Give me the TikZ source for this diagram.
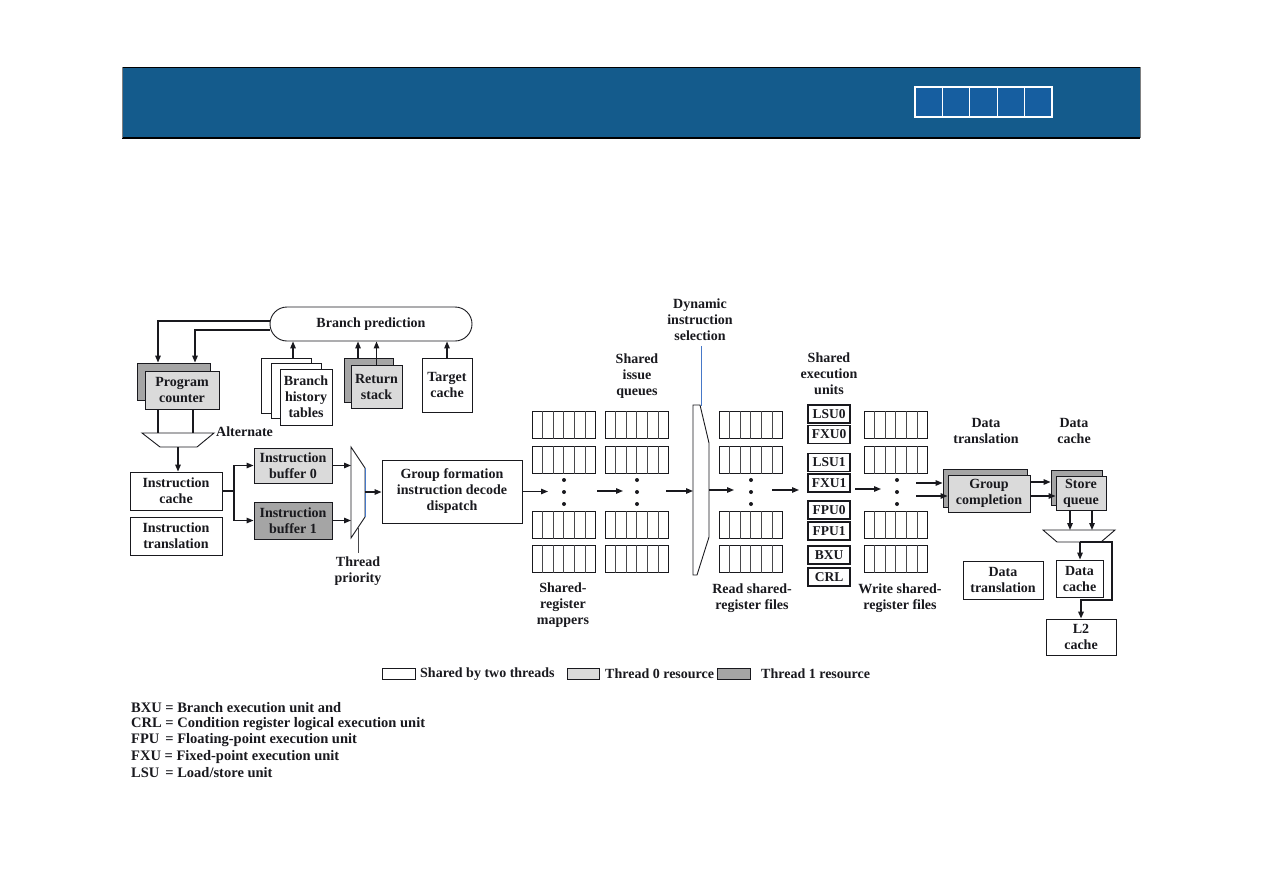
\documentclass[tikz,border=0pt]{standalone}
\usepackage{fontspec}
\setmainfont{Liberation Serif}
\usetikzlibrary{arrows.meta}
\definecolor{banner}{RGB}{20,91,140}
\definecolor{cellblue}{RGB}{22,94,160}
\definecolor{tzero}{RGB}{218,218,218}
\definecolor{tone}{RGB}{165,165,165}
\definecolor{ink}{RGB}{25,25,30}
\definecolor{selline}{RGB}{70,120,200}
\newcommand{\regblk}[3]{%
  \node[reg] (#1) at ({#2+31.75},{#3+13.75}) {};
  \foreach \k in {1,...,5}{\draw[cell] ({#2+\k*63.5/6},#3) -- ++(0,27.5);}
}
\tikzset{
 lbl/.style={font=\bfseries\fontsize{14}{16}\selectfont, text=ink, align=center, inner sep=0pt},
 box/.style={lbl, draw=ink, line width=0.9pt, fill=white},
 tzbox/.style={box, fill=tzero},
 tobox/.style={box, fill=tone},
 reg/.style={draw=ink, line width=0.8pt, minimum width=63.5pt, minimum height=27.5pt, inner sep=0pt},
 cell/.style={draw=ink!80, line width=0.7pt},
 eu/.style={box, line width=1.3pt, minimum width=42pt, minimum height=18pt, font=\bfseries\fontsize{13.5}{15}\selectfont},
 arr/.style={draw=ink, line width=1.3pt, -{Triangle[length=7pt,width=5.5pt]}},
 ln/.style={draw=ink, line width=1.1pt},
 mux/.style={draw=ink, line width=0.9pt, fill=white},
 dot/.style={fill=ink, circle, inner sep=0pt, minimum size=4pt},
 abbr/.style={lbl, anchor=west, font=\bfseries\fontsize{14.5}{16}\selectfont},
}
\begin{document}
\begin{tikzpicture}[x=1pt,y=-1pt]
\useasboundingbox[fill=white] (0,0) rectangle (1263,894);
% banner
\fill[banner] (122,67) rectangle (1140,138);
\draw[black, line width=1pt] (122,67) -- (1140,67);
\draw[black, line width=2.5pt] (122,138) -- (1140,138);
\draw[gray, line width=0.5pt] (122,67) -- (122,138) (1140,67) -- (1140,138);
\fill[cellblue] (915,87) rectangle (1052,117);
\draw[white, line width=1.5pt] (915,87) rectangle (1052,117);
\foreach \i in {1,...,4}{\draw[white, line width=1.2pt] ({915+\i*27.4},87) -- ({915+\i*27.4},117);}

% branch prediction
\node[box, rounded corners=17pt, minimum width=202pt, minimum height=34pt] (bp) at (371,324) {Branch prediction};
\node[tobox, minimum width=73pt, minimum height=37pt] (pcb) at (173.5,381.5) {};
\node[tzbox, minimum width=74pt, minimum height=38pt] (pc) at (182,390) {Program\\counter};
\node[box, minimum width=50pt, minimum height=55pt] (bht3) at (286,385.5) {};
\node[box, minimum width=50pt, minimum height=55pt] (bht2) at (296,390.5) {};
\node[box, minimum width=52pt, minimum height=56pt] (bht) at (306,397) {Branch\\history\\tables};
\node[tobox, minimum width=49pt, minimum height=44pt] (rsb) at (368.5,380) {};
\node[tzbox, minimum width=51pt, minimum height=43pt] (rs) at (376.5,386.5) {Return\\stack};
\node[box, minimum width=50pt, minimum height=54pt] (tc) at (447,385) {Target\\cache};

\draw[arr] ([yshift=3pt]bp.west) -| ([xshift=-15.5pt]pcb.north);
\draw[arr] ([yshift=-6pt]bp.west) -| ([xshift=21.5pt]pcb.north);
\draw[arr] ([xshift=7pt]bht3.north) -- ([xshift=7pt]bht3.north |- bp.south);
\draw[arr] ([xshift=-10.5pt]rsb.north) -- ([xshift=-10.5pt]rsb.north |- bp.south);
\draw[arr] (rs.north) -- (rs.north |- bp.south);
\draw[arr] (tc.north) -- (tc.north |- bp.south);

% mux 1
\coordinate (m1t) at (178,433);
\coordinate (m1b) at (178,447);
\draw[mux] (142,433) -- (214,433) -- (197,447) -- (160,447) -- cycle;
\draw[ln] ([xshift=-24pt]pc.south) -- ([xshift=-24pt]pc.south |- m1t);
\draw[ln] ([xshift=11pt]pc.south) -- ([xshift=11pt]pc.south |- m1t);
\node[lbl, anchor=west] (alt) at (216,432) {Alternate};

\node[box, minimum width=92pt, minimum height=38pt] (ic) at (176,491) {Instruction\\cache};
\node[box, minimum width=92pt, minimum height=38pt] (it) at (176,536) {Instruction\\translation};
\draw[arr] (m1b) -- (m1b |- ic.north);

\node[tzbox, minimum width=78pt, minimum height=35pt] (ib0) at (293,465.5) {Instruction\\buffer 0};
\node[tobox, minimum width=78pt, minimum height=37pt] (ib1) at (293,520.5) {Instruction\\buffer 1};
\coordinate (split) at (234,491);
\draw[ln] (ic.east) -- (split);
\draw[arr] (split) |- (ib0.west);
\draw[arr] (split) |- (ib1.west);

% mux 2
\coordinate (m2l) at (351,492);
\coordinate (m2r) at (365,492);
\draw[mux] (351,447) -- (365,468) -- (365,517) -- (351,538) -- cycle;
\draw[selline, line width=0.9pt] (365,468) -- (365,517);
\draw[arr] (ib0.east) -- (ib0.east -| m2l);
\draw[arr] (ib1.east) -- (ib1.east -| m2l);
\coordinate (tpt) at (358,528);
\node[lbl] (tp) at (358,571) {Thread\\priority};
\draw[ln, line width=0.9pt, draw=ink!80] (tpt) -- (358,553);

\node[box, minimum width=140pt, minimum height=63pt] (gf) at (452,491.5) {Group formation\\instruction decode\\dispatch};
\draw[arr] (m2r) -- (m2r -| gf.west);

% register blocks
\foreach \c/\n in {532/map,605/iq,719/rd,864/wr}{
  \regblk{\n1}{\c}{411}
  \regblk{\n2}{\c}{446}
  \regblk{\n3}{\c}{511}
  \regblk{\n4}{\c}{545}
}
\foreach \x in {564,637,751,897}{
  \node[dot] at (\x,480) {};
  \node[dot] at (\x,492) {};
  \node[dot] at (\x,504) {};
}
\node[lbl] (lmap) at (563,605) {Shared-\\register\\mappers};
\node[lbl] (liq) at (637,376) {Shared\\issue\\queues};
\node[lbl] (lrd) at (752,598) {Read shared-\\register files};
\node[lbl] (lwr) at (900,598) {Write shared-\\register files};

\coordinate (a1) at (548,491.5);
\draw[arr] (gf.east) -- (a1);
\coordinate (a2s) at (597,491); \coordinate (a2e) at (623,491);
\draw[arr] (a2s) -- (a2e);

% dynamic selection mux
\draw[mux] (693,405) -- (700,405) -- (709,443) -- (709,537) -- (697,575) -- (693,575) -- cycle;
\coordinate (dm) at (693,491);
\coordinate (dmo) at (709,490);
\coordinate (a3s) at (666,491);
\draw[arr] (a3s) -- (dm);
\node[lbl] (ldyn) at (700,320) {Dynamic\\instruction\\selection};
\coordinate (dtop) at (701,406);
\draw[selline, line width=0.9pt] (701,346) -- (dtop);
\coordinate (a4e) at (734,490);
\draw[arr] (dmo) -- (a4e);
\coordinate (a5s) at (772,490); \coordinate (a5e) at (799,490);
\draw[arr] (a5s) -- (a5e);

% execution units
\node[lbl] (lex) at (829,373.5) {Shared\\execution\\units};
\node[eu] (lsu0) at (829,414) {LSU0};
\node[eu] (fxu0) at (829,434.5) {FXU0};
\node[eu] (lsu1) at (829,462.5) {LSU1};
\node[eu] (fxu1) at (829,483) {FXU1};
\node[eu] (fpu0) at (829,510) {FPU0};
\node[eu] (fpu1) at (829,531) {FPU1};
\node[eu] (bxu) at (829,555) {BXU};
\node[eu] (crl) at (829,577) {CRL};
\coordinate (a6s) at (855,489); \coordinate (a6e) at (881,489);
\draw[arr] (a6s) -- (a6e);

% group completion
\node[tobox, minimum width=84pt, minimum height=38pt] (gcb) at (985,488) {};
\node[tzbox, minimum width=82pt, minimum height=37pt] (gc) at (989,493.5) {Group\\completion};
\node[lbl] (ldt) at (986,431) {Data\\translation};
\coordinate (w1) at (916,483); \coordinate (w2) at (916,496);
\draw[arr] (w1) -- (w1 -| gcb.west);
\draw[arr] (w2) -- (w2 -| gc.west);

% store queue
\node[tobox, minimum width=51pt, minimum height=35pt] (sqb) at (1076.5,487.5) {};
\node[tzbox, minimum width=50pt, minimum height=34pt] (sq) at (1081,493) {Store\\queue};
\node[lbl] (ldc) at (1074,431) {Data\\cache};
\coordinate (g1) at (1030,482); \coordinate (g2) at (1030,496);
\draw[arr] (g1) -- (g1 -| sqb.west);
\draw[arr] (g2) -- (g2 -| sq.west);

% mux 3
\draw[mux] (1043,530) -- (1115,530) -- (1101,542) -- (1057,542) -- cycle;
\coordinate (m3t) at (1080,530);
\coordinate (m3b) at (1080,542);
\draw[arr] ([xshift=-11pt]sq.south) -- ([xshift=-11pt]sq.south |- m3t);
\draw[arr] ([xshift=11pt]sq.south) -- ([xshift=11pt]sq.south |- m3t);

\node[box, minimum width=47pt, minimum height=37pt] (dc) at (1079.5,578.5) {Data\\cache};
\node[box, minimum width=80pt, minimum height=38pt] (dt) at (1003,580) {Data\\translation};
\node[box, minimum width=70pt, minimum height=36pt] (l2) at (1081,637) {L2\\cache};
\draw[arr] (m3b) -- (m3b |- dc.north);
\coordinate (rt) at (1112,600);
\draw[arr, line width=1.8pt] (m3b) -- (1112,542) -- (rt) -| (l2.north);

% legend
\node[box, minimum width=33pt, minimum height=11pt] (lg1) at (398.5,674) {};
\node[lbl, anchor=west] (lt1) at (420,674) {Shared by two threads};
\node[tzbox, minimum width=32pt, minimum height=11pt] (lg2) at (583,674) {};
\node[lbl, anchor=west] (lt2) at (605,674) {Thread 0 resource};
\node[tobox, minimum width=33pt, minimum height=11pt] (lg3) at (733.5,674) {};
\node[lbl, anchor=west] (lt3) at (761,674) {Thread 1 resource};

% abbreviations
\node[abbr] (ab1) at (131,708) {BXU = Branch execution unit and};
\node[abbr] (ab2) at (131,724) {CRL = Condition register logical execution unit};
\node[abbr] (ab3) at (131,740) {FPU \,= Floating-point execution unit};
\node[abbr] (ab4) at (131,757) {FXU = Fixed-point execution unit};
\node[abbr] (ab5) at (131,773) {LSU \,= Load/store unit};
\end{tikzpicture}
\end{document}
